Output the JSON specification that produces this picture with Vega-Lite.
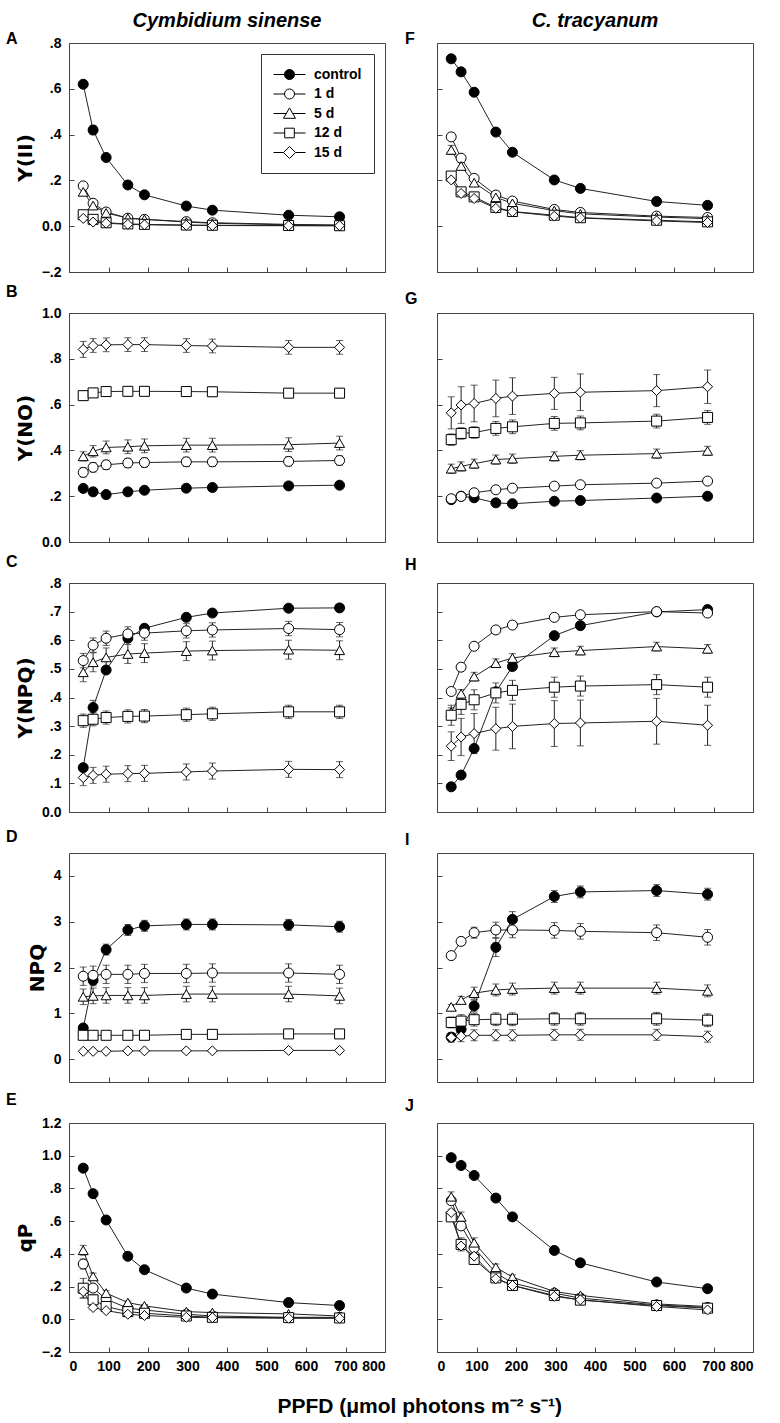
{
"$schema": "https://vega.github.io/schema/vega-lite/v6.json",
"background": "white",
"padding": {"left": 5, "top": 1, "right": 5, "bottom": 5},
"title": {"text": "PPFD (μmol photons m⁻² s⁻¹)", "orient": "bottom", "anchor": "middle", "frame": "bounds", "fontSize": 21, "dx": 40, "offset": 22, "font": "Liberation Sans", "fontWeight": "bold", "color": "black"},
"columns": 2,
"spacing": {"row": 41, "column": 52},
"bounds": "flush",
"resolve": {"scale": {"shape": "independent", "fill": "independent"}, "legend": {"shape": "independent", "fill": "independent"}},
"config": {
 "view": {"stroke": "#444", "strokeWidth": 1},
 "axis": {"labelFont": "Liberation Sans", "labelFontSize": 14, "labelFontWeight": "bold", "labelColor": "black", "titleFont": "DejaVu Sans", "titleFontSize": 20, "titleFontWeight": "bold", "titleColor": "black", "domain": false, "grid": false, "tickSize": -5, "tickColor": "#444", "labelPadding": 13, "titlePadding": 6},
 "title": {"font": "Liberation Sans", "fontSize": 16, "fontWeight": "bold", "anchor": "start", "frame": "group", "color": "black"},
 "legend": {"labelFont": "Liberation Sans", "labelFontSize": 14, "labelFontWeight": "bold", "labelColor": "black"}
},
"datasets": {"d": [
{"p":"A","g":"control","x":36,"y":0.62,"e":0.01},{"p":"A","g":"control","x":61,"y":0.42,"e":0.02},{"p":"A","g":"control","x":94,"y":0.30,"e":0.01},{"p":"A","g":"control","x":149,"y":0.18,"e":0.01},{"p":"A","g":"control","x":191,"y":0.137,"e":0.008},{"p":"A","g":"control","x":297,"y":0.088,"e":0.006},{"p":"A","g":"control","x":363,"y":0.07,"e":0.005},{"p":"A","g":"control","x":556,"y":0.048,"e":0.005},{"p":"A","g":"control","x":685,"y":0.041,"e":0.005},
{"p":"A","g":"1 d","x":36,"y":0.176,"e":0.01},{"p":"A","g":"1 d","x":61,"y":0.10,"e":0.01},{"p":"A","g":"1 d","x":94,"y":0.062,"e":0.008},{"p":"A","g":"1 d","x":149,"y":0.035,"e":0.006},{"p":"A","g":"1 d","x":191,"y":0.03,"e":0.005},{"p":"A","g":"1 d","x":297,"y":0.02,"e":0.004},{"p":"A","g":"1 d","x":363,"y":0.015,"e":0.004},{"p":"A","g":"1 d","x":556,"y":0.008,"e":0.003},{"p":"A","g":"1 d","x":685,"y":0.005,"e":0.003},
{"p":"A","g":"5 d","x":36,"y":0.15,"e":0.012},{"p":"A","g":"5 d","x":61,"y":0.09,"e":0.01},{"p":"A","g":"5 d","x":94,"y":0.058,"e":0.008},{"p":"A","g":"5 d","x":149,"y":0.035,"e":0.006},{"p":"A","g":"5 d","x":191,"y":0.03,"e":0.005},{"p":"A","g":"5 d","x":297,"y":0.018,"e":0.004},{"p":"A","g":"5 d","x":363,"y":0.013,"e":0.004},{"p":"A","g":"5 d","x":556,"y":0.006,"e":0.003},{"p":"A","g":"5 d","x":685,"y":0.004,"e":0.003},
{"p":"A","g":"12 d","x":36,"y":0.05,"e":0.005},{"p":"A","g":"12 d","x":61,"y":0.03,"e":0.005},{"p":"A","g":"12 d","x":94,"y":0.015,"e":0.005},{"p":"A","g":"12 d","x":149,"y":0.01,"e":0.004},{"p":"A","g":"12 d","x":191,"y":0.008,"e":0.004},{"p":"A","g":"12 d","x":297,"y":0.005,"e":0.003},{"p":"A","g":"12 d","x":363,"y":0.004,"e":0.003},{"p":"A","g":"12 d","x":556,"y":0.003,"e":0.003},{"p":"A","g":"12 d","x":685,"y":0.002,"e":0.003},
{"p":"A","g":"15 d","x":36,"y":0.034,"e":0.004},{"p":"A","g":"15 d","x":61,"y":0.018,"e":0.004},{"p":"A","g":"15 d","x":94,"y":0.013,"e":0.004},{"p":"A","g":"15 d","x":149,"y":0.008,"e":0.003},{"p":"A","g":"15 d","x":191,"y":0.006,"e":0.003},{"p":"A","g":"15 d","x":297,"y":0.004,"e":0.003},{"p":"A","g":"15 d","x":363,"y":0.003,"e":0.003},{"p":"A","g":"15 d","x":556,"y":0.002,"e":0.003},{"p":"A","g":"15 d","x":685,"y":0.002,"e":0.003},

{"p":"F","g":"control","x":36,"y":0.731,"e":0.01},{"p":"F","g":"control","x":61,"y":0.674,"e":0.01},{"p":"F","g":"control","x":94,"y":0.585,"e":0.01},{"p":"F","g":"control","x":149,"y":0.411,"e":0.01},{"p":"F","g":"control","x":191,"y":0.323,"e":0.01},{"p":"F","g":"control","x":297,"y":0.202,"e":0.01},{"p":"F","g":"control","x":363,"y":0.165,"e":0.01},{"p":"F","g":"control","x":556,"y":0.108,"e":0.01},{"p":"F","g":"control","x":685,"y":0.091,"e":0.01},
{"p":"F","g":"1 d","x":36,"y":0.39,"e":0.01},{"p":"F","g":"1 d","x":61,"y":0.297,"e":0.01},{"p":"F","g":"1 d","x":94,"y":0.209,"e":0.01},{"p":"F","g":"1 d","x":149,"y":0.136,"e":0.01},{"p":"F","g":"1 d","x":191,"y":0.11,"e":0.01},{"p":"F","g":"1 d","x":297,"y":0.073,"e":0.01},{"p":"F","g":"1 d","x":363,"y":0.06,"e":0.01},{"p":"F","g":"1 d","x":556,"y":0.044,"e":0.01},{"p":"F","g":"1 d","x":685,"y":0.038,"e":0.01},
{"p":"F","g":"5 d","x":36,"y":0.333,"e":0.02},{"p":"F","g":"5 d","x":61,"y":0.263,"e":0.015},{"p":"F","g":"5 d","x":94,"y":0.19,"e":0.012},{"p":"F","g":"5 d","x":149,"y":0.126,"e":0.01},{"p":"F","g":"5 d","x":191,"y":0.1,"e":0.008},{"p":"F","g":"5 d","x":297,"y":0.068,"e":0.006},{"p":"F","g":"5 d","x":363,"y":0.054,"e":0.005},{"p":"F","g":"5 d","x":556,"y":0.04,"e":0.004},{"p":"F","g":"5 d","x":685,"y":0.033,"e":0.004},
{"p":"F","g":"12 d","x":36,"y":0.219,"e":0.01},{"p":"F","g":"12 d","x":61,"y":0.15,"e":0.01},{"p":"F","g":"12 d","x":94,"y":0.128,"e":0.01},{"p":"F","g":"12 d","x":149,"y":0.082,"e":0.01},{"p":"F","g":"12 d","x":191,"y":0.064,"e":0.01},{"p":"F","g":"12 d","x":297,"y":0.048,"e":0.01},{"p":"F","g":"12 d","x":363,"y":0.037,"e":0.01},{"p":"F","g":"12 d","x":556,"y":0.026,"e":0.01},{"p":"F","g":"12 d","x":685,"y":0.019,"e":0.01},
{"p":"F","g":"15 d","x":36,"y":0.202,"e":0.01},{"p":"F","g":"15 d","x":61,"y":0.143,"e":0.01},{"p":"F","g":"15 d","x":94,"y":0.121,"e":0.01},{"p":"F","g":"15 d","x":149,"y":0.078,"e":0.01},{"p":"F","g":"15 d","x":191,"y":0.063,"e":0.01},{"p":"F","g":"15 d","x":297,"y":0.044,"e":0.01},{"p":"F","g":"15 d","x":363,"y":0.036,"e":0.01},{"p":"F","g":"15 d","x":556,"y":0.023,"e":0.01},{"p":"F","g":"15 d","x":685,"y":0.016,"e":0.01},

{"p":"B","g":"control","x":36,"y":0.234,"e":0.005},{"p":"B","g":"control","x":61,"y":0.219,"e":0.005},{"p":"B","g":"control","x":94,"y":0.207,"e":0.005},{"p":"B","g":"control","x":149,"y":0.219,"e":0.005},{"p":"B","g":"control","x":191,"y":0.226,"e":0.005},{"p":"B","g":"control","x":297,"y":0.235,"e":0.005},{"p":"B","g":"control","x":363,"y":0.238,"e":0.005},{"p":"B","g":"control","x":556,"y":0.245,"e":0.005},{"p":"B","g":"control","x":685,"y":0.248,"e":0.005},
{"p":"B","g":"1 d","x":36,"y":0.304,"e":0.02},{"p":"B","g":"1 d","x":61,"y":0.326,"e":0.02},{"p":"B","g":"1 d","x":94,"y":0.337,"e":0.02},{"p":"B","g":"1 d","x":149,"y":0.345,"e":0.02},{"p":"B","g":"1 d","x":191,"y":0.347,"e":0.02},{"p":"B","g":"1 d","x":297,"y":0.35,"e":0.02},{"p":"B","g":"1 d","x":363,"y":0.35,"e":0.02},{"p":"B","g":"1 d","x":556,"y":0.352,"e":0.02},{"p":"B","g":"1 d","x":685,"y":0.356,"e":0.02},
{"p":"B","g":"5 d","x":36,"y":0.374,"e":0.02},{"p":"B","g":"5 d","x":61,"y":0.396,"e":0.025},{"p":"B","g":"5 d","x":94,"y":0.413,"e":0.028},{"p":"B","g":"5 d","x":149,"y":0.416,"e":0.03},{"p":"B","g":"5 d","x":191,"y":0.42,"e":0.03},{"p":"B","g":"5 d","x":297,"y":0.423,"e":0.03},{"p":"B","g":"5 d","x":363,"y":0.423,"e":0.03},{"p":"B","g":"5 d","x":556,"y":0.425,"e":0.03},{"p":"B","g":"5 d","x":685,"y":0.432,"e":0.03},
{"p":"B","g":"12 d","x":36,"y":0.639,"e":0.02},{"p":"B","g":"12 d","x":61,"y":0.651,"e":0.02},{"p":"B","g":"12 d","x":94,"y":0.657,"e":0.02},{"p":"B","g":"12 d","x":149,"y":0.658,"e":0.02},{"p":"B","g":"12 d","x":191,"y":0.658,"e":0.02},{"p":"B","g":"12 d","x":297,"y":0.657,"e":0.02},{"p":"B","g":"12 d","x":363,"y":0.656,"e":0.02},{"p":"B","g":"12 d","x":556,"y":0.65,"e":0.02},{"p":"B","g":"12 d","x":685,"y":0.65,"e":0.02},
{"p":"B","g":"15 d","x":36,"y":0.841,"e":0.035},{"p":"B","g":"15 d","x":61,"y":0.858,"e":0.03},{"p":"B","g":"15 d","x":94,"y":0.861,"e":0.03},{"p":"B","g":"15 d","x":149,"y":0.862,"e":0.03},{"p":"B","g":"15 d","x":191,"y":0.862,"e":0.03},{"p":"B","g":"15 d","x":297,"y":0.858,"e":0.03},{"p":"B","g":"15 d","x":363,"y":0.856,"e":0.03},{"p":"B","g":"15 d","x":556,"y":0.85,"e":0.03},{"p":"B","g":"15 d","x":685,"y":0.85,"e":0.03},

{"p":"G","g":"control","x":36,"y":0.185,"e":0.005},{"p":"G","g":"control","x":61,"y":0.2,"e":0.005},{"p":"G","g":"control","x":94,"y":0.193,"e":0.005},{"p":"G","g":"control","x":149,"y":0.171,"e":0.005},{"p":"G","g":"control","x":191,"y":0.167,"e":0.005},{"p":"G","g":"control","x":297,"y":0.178,"e":0.005},{"p":"G","g":"control","x":363,"y":0.181,"e":0.005},{"p":"G","g":"control","x":556,"y":0.192,"e":0.005},{"p":"G","g":"control","x":685,"y":0.2,"e":0.005},
{"p":"G","g":"1 d","x":36,"y":0.189,"e":0.006},{"p":"G","g":"1 d","x":61,"y":0.199,"e":0.006},{"p":"G","g":"1 d","x":94,"y":0.215,"e":0.006},{"p":"G","g":"1 d","x":149,"y":0.228,"e":0.006},{"p":"G","g":"1 d","x":191,"y":0.235,"e":0.006},{"p":"G","g":"1 d","x":297,"y":0.244,"e":0.006},{"p":"G","g":"1 d","x":363,"y":0.25,"e":0.006},{"p":"G","g":"1 d","x":556,"y":0.257,"e":0.006},{"p":"G","g":"1 d","x":685,"y":0.266,"e":0.006},
{"p":"G","g":"5 d","x":36,"y":0.32,"e":0.02},{"p":"G","g":"5 d","x":61,"y":0.33,"e":0.02},{"p":"G","g":"5 d","x":94,"y":0.342,"e":0.02},{"p":"G","g":"5 d","x":149,"y":0.36,"e":0.02},{"p":"G","g":"5 d","x":191,"y":0.364,"e":0.02},{"p":"G","g":"5 d","x":297,"y":0.374,"e":0.02},{"p":"G","g":"5 d","x":363,"y":0.379,"e":0.02},{"p":"G","g":"5 d","x":556,"y":0.386,"e":0.02},{"p":"G","g":"5 d","x":685,"y":0.398,"e":0.02},
{"p":"G","g":"12 d","x":36,"y":0.447,"e":0.025},{"p":"G","g":"12 d","x":61,"y":0.474,"e":0.025},{"p":"G","g":"12 d","x":94,"y":0.478,"e":0.025},{"p":"G","g":"12 d","x":149,"y":0.496,"e":0.03},{"p":"G","g":"12 d","x":191,"y":0.503,"e":0.03},{"p":"G","g":"12 d","x":297,"y":0.518,"e":0.03},{"p":"G","g":"12 d","x":363,"y":0.52,"e":0.03},{"p":"G","g":"12 d","x":556,"y":0.528,"e":0.03},{"p":"G","g":"12 d","x":685,"y":0.544,"e":0.03},
{"p":"G","g":"15 d","x":36,"y":0.564,"e":0.07},{"p":"G","g":"15 d","x":61,"y":0.598,"e":0.08},{"p":"G","g":"15 d","x":94,"y":0.605,"e":0.08},{"p":"G","g":"15 d","x":149,"y":0.627,"e":0.08},{"p":"G","g":"15 d","x":191,"y":0.637,"e":0.08},{"p":"G","g":"15 d","x":297,"y":0.649,"e":0.07},{"p":"G","g":"15 d","x":363,"y":0.654,"e":0.08},{"p":"G","g":"15 d","x":556,"y":0.661,"e":0.07},{"p":"G","g":"15 d","x":685,"y":0.678,"e":0.073},

{"p":"C","g":"control","x":36,"y":0.155,"e":0.01},{"p":"C","g":"control","x":61,"y":0.365,"e":0.025},{"p":"C","g":"control","x":94,"y":0.496,"e":0.01},{"p":"C","g":"control","x":149,"y":0.607,"e":0.01},{"p":"C","g":"control","x":191,"y":0.642,"e":0.01},{"p":"C","g":"control","x":297,"y":0.68,"e":0.01},{"p":"C","g":"control","x":363,"y":0.695,"e":0.01},{"p":"C","g":"control","x":556,"y":0.712,"e":0.01},{"p":"C","g":"control","x":685,"y":0.713,"e":0.01},
{"p":"C","g":"1 d","x":36,"y":0.529,"e":0.025},{"p":"C","g":"1 d","x":61,"y":0.583,"e":0.025},{"p":"C","g":"1 d","x":94,"y":0.607,"e":0.025},{"p":"C","g":"1 d","x":149,"y":0.622,"e":0.025},{"p":"C","g":"1 d","x":191,"y":0.625,"e":0.025},{"p":"C","g":"1 d","x":297,"y":0.633,"e":0.025},{"p":"C","g":"1 d","x":363,"y":0.636,"e":0.025},{"p":"C","g":"1 d","x":556,"y":0.641,"e":0.025},{"p":"C","g":"1 d","x":685,"y":0.637,"e":0.025},
{"p":"C","g":"5 d","x":36,"y":0.488,"e":0.033},{"p":"C","g":"5 d","x":61,"y":0.523,"e":0.033},{"p":"C","g":"5 d","x":94,"y":0.54,"e":0.033},{"p":"C","g":"5 d","x":149,"y":0.552,"e":0.033},{"p":"C","g":"5 d","x":191,"y":0.555,"e":0.033},{"p":"C","g":"5 d","x":297,"y":0.562,"e":0.033},{"p":"C","g":"5 d","x":363,"y":0.564,"e":0.033},{"p":"C","g":"5 d","x":556,"y":0.567,"e":0.033},{"p":"C","g":"5 d","x":685,"y":0.565,"e":0.033},
{"p":"C","g":"12 d","x":36,"y":0.319,"e":0.023},{"p":"C","g":"12 d","x":61,"y":0.324,"e":0.023},{"p":"C","g":"12 d","x":94,"y":0.33,"e":0.023},{"p":"C","g":"12 d","x":149,"y":0.334,"e":0.023},{"p":"C","g":"12 d","x":191,"y":0.335,"e":0.023},{"p":"C","g":"12 d","x":297,"y":0.34,"e":0.023},{"p":"C","g":"12 d","x":363,"y":0.343,"e":0.023},{"p":"C","g":"12 d","x":556,"y":0.35,"e":0.023},{"p":"C","g":"12 d","x":685,"y":0.35,"e":0.023},
{"p":"C","g":"15 d","x":36,"y":0.12,"e":0.028},{"p":"C","g":"15 d","x":61,"y":0.128,"e":0.028},{"p":"C","g":"15 d","x":94,"y":0.132,"e":0.028},{"p":"C","g":"15 d","x":149,"y":0.134,"e":0.028},{"p":"C","g":"15 d","x":191,"y":0.135,"e":0.028},{"p":"C","g":"15 d","x":297,"y":0.14,"e":0.028},{"p":"C","g":"15 d","x":363,"y":0.143,"e":0.028},{"p":"C","g":"15 d","x":556,"y":0.149,"e":0.028},{"p":"C","g":"15 d","x":685,"y":0.148,"e":0.028},

{"p":"H","g":"control","x":36,"y":0.088,"e":0.01},{"p":"H","g":"control","x":61,"y":0.129,"e":0.01},{"p":"H","g":"control","x":94,"y":0.222,"e":0.01},{"p":"H","g":"control","x":149,"y":0.42,"e":0.01},{"p":"H","g":"control","x":191,"y":0.508,"e":0.01},{"p":"H","g":"control","x":297,"y":0.616,"e":0.01},{"p":"H","g":"control","x":363,"y":0.651,"e":0.01},{"p":"H","g":"control","x":556,"y":0.699,"e":0.01},{"p":"H","g":"control","x":685,"y":0.707,"e":0.01},
{"p":"H","g":"1 d","x":36,"y":0.421,"e":0.01},{"p":"H","g":"1 d","x":61,"y":0.506,"e":0.01},{"p":"H","g":"1 d","x":94,"y":0.579,"e":0.01},{"p":"H","g":"1 d","x":149,"y":0.636,"e":0.01},{"p":"H","g":"1 d","x":191,"y":0.653,"e":0.01},{"p":"H","g":"1 d","x":297,"y":0.68,"e":0.01},{"p":"H","g":"1 d","x":363,"y":0.689,"e":0.01},{"p":"H","g":"1 d","x":556,"y":0.7,"e":0.01},{"p":"H","g":"1 d","x":685,"y":0.695,"e":0.01},
{"p":"H","g":"5 d","x":36,"y":0.349,"e":0.015},{"p":"H","g":"5 d","x":61,"y":0.413,"e":0.015},{"p":"H","g":"5 d","x":94,"y":0.473,"e":0.015},{"p":"H","g":"5 d","x":149,"y":0.52,"e":0.015},{"p":"H","g":"5 d","x":191,"y":0.538,"e":0.015},{"p":"H","g":"5 d","x":297,"y":0.558,"e":0.015},{"p":"H","g":"5 d","x":363,"y":0.564,"e":0.015},{"p":"H","g":"5 d","x":556,"y":0.578,"e":0.015},{"p":"H","g":"5 d","x":685,"y":0.57,"e":0.015},
{"p":"H","g":"12 d","x":36,"y":0.338,"e":0.035},{"p":"H","g":"12 d","x":61,"y":0.376,"e":0.035},{"p":"H","g":"12 d","x":94,"y":0.392,"e":0.035},{"p":"H","g":"12 d","x":149,"y":0.416,"e":0.035},{"p":"H","g":"12 d","x":191,"y":0.425,"e":0.035},{"p":"H","g":"12 d","x":297,"y":0.436,"e":0.035},{"p":"H","g":"12 d","x":363,"y":0.44,"e":0.035},{"p":"H","g":"12 d","x":556,"y":0.445,"e":0.035},{"p":"H","g":"12 d","x":685,"y":0.436,"e":0.035},
{"p":"H","g":"15 d","x":36,"y":0.23,"e":0.05},{"p":"H","g":"15 d","x":61,"y":0.262,"e":0.065},{"p":"H","g":"15 d","x":94,"y":0.274,"e":0.07},{"p":"H","g":"15 d","x":149,"y":0.291,"e":0.075},{"p":"H","g":"15 d","x":191,"y":0.299,"e":0.078},{"p":"H","g":"15 d","x":297,"y":0.309,"e":0.08},{"p":"H","g":"15 d","x":363,"y":0.311,"e":0.08},{"p":"H","g":"15 d","x":556,"y":0.317,"e":0.08},{"p":"H","g":"15 d","x":685,"y":0.303,"e":0.07},

{"p":"D","g":"control","x":36,"y":0.68,"e":0.06},{"p":"D","g":"control","x":61,"y":1.72,"e":0.12},{"p":"D","g":"control","x":94,"y":2.39,"e":0.12},{"p":"D","g":"control","x":149,"y":2.82,"e":0.12},{"p":"D","g":"control","x":191,"y":2.91,"e":0.12},{"p":"D","g":"control","x":297,"y":2.94,"e":0.12},{"p":"D","g":"control","x":363,"y":2.94,"e":0.12},{"p":"D","g":"control","x":556,"y":2.93,"e":0.12},{"p":"D","g":"control","x":685,"y":2.89,"e":0.12},
{"p":"D","g":"1 d","x":36,"y":1.81,"e":0.2},{"p":"D","g":"1 d","x":61,"y":1.83,"e":0.2},{"p":"D","g":"1 d","x":94,"y":1.85,"e":0.2},{"p":"D","g":"1 d","x":149,"y":1.85,"e":0.2},{"p":"D","g":"1 d","x":191,"y":1.87,"e":0.2},{"p":"D","g":"1 d","x":297,"y":1.87,"e":0.2},{"p":"D","g":"1 d","x":363,"y":1.88,"e":0.2},{"p":"D","g":"1 d","x":556,"y":1.88,"e":0.2},{"p":"D","g":"1 d","x":685,"y":1.85,"e":0.2},
{"p":"D","g":"5 d","x":36,"y":1.36,"e":0.17},{"p":"D","g":"5 d","x":61,"y":1.38,"e":0.17},{"p":"D","g":"5 d","x":94,"y":1.39,"e":0.17},{"p":"D","g":"5 d","x":149,"y":1.39,"e":0.17},{"p":"D","g":"5 d","x":191,"y":1.39,"e":0.17},{"p":"D","g":"5 d","x":297,"y":1.42,"e":0.17},{"p":"D","g":"5 d","x":363,"y":1.42,"e":0.17},{"p":"D","g":"5 d","x":556,"y":1.42,"e":0.17},{"p":"D","g":"5 d","x":685,"y":1.38,"e":0.17},
{"p":"D","g":"12 d","x":36,"y":0.52,"e":0.02},{"p":"D","g":"12 d","x":61,"y":0.52,"e":0.02},{"p":"D","g":"12 d","x":94,"y":0.52,"e":0.02},{"p":"D","g":"12 d","x":149,"y":0.52,"e":0.02},{"p":"D","g":"12 d","x":191,"y":0.52,"e":0.02},{"p":"D","g":"12 d","x":297,"y":0.54,"e":0.02},{"p":"D","g":"12 d","x":363,"y":0.54,"e":0.02},{"p":"D","g":"12 d","x":556,"y":0.55,"e":0.02},{"p":"D","g":"12 d","x":685,"y":0.55,"e":0.02},
{"p":"D","g":"15 d","x":36,"y":0.17,"e":0.01},{"p":"D","g":"15 d","x":61,"y":0.17,"e":0.01},{"p":"D","g":"15 d","x":94,"y":0.17,"e":0.01},{"p":"D","g":"15 d","x":149,"y":0.18,"e":0.01},{"p":"D","g":"15 d","x":191,"y":0.18,"e":0.01},{"p":"D","g":"15 d","x":297,"y":0.18,"e":0.01},{"p":"D","g":"15 d","x":363,"y":0.18,"e":0.01},{"p":"D","g":"15 d","x":556,"y":0.19,"e":0.01},{"p":"D","g":"15 d","x":685,"y":0.19,"e":0.01},

{"p":"I","g":"control","x":36,"y":0.48,"e":0.06},{"p":"I","g":"control","x":61,"y":0.65,"e":0.1},{"p":"I","g":"control","x":94,"y":1.16,"e":0.13},{"p":"I","g":"control","x":149,"y":2.44,"e":0.2},{"p":"I","g":"control","x":191,"y":3.05,"e":0.17},{"p":"I","g":"control","x":297,"y":3.55,"e":0.13},{"p":"I","g":"control","x":363,"y":3.65,"e":0.13},{"p":"I","g":"control","x":556,"y":3.68,"e":0.13},{"p":"I","g":"control","x":685,"y":3.6,"e":0.13},
{"p":"I","g":"1 d","x":36,"y":2.26,"e":0.05},{"p":"I","g":"1 d","x":61,"y":2.57,"e":0.08},{"p":"I","g":"1 d","x":94,"y":2.76,"e":0.12},{"p":"I","g":"1 d","x":149,"y":2.82,"e":0.17},{"p":"I","g":"1 d","x":191,"y":2.82,"e":0.17},{"p":"I","g":"1 d","x":297,"y":2.81,"e":0.17},{"p":"I","g":"1 d","x":363,"y":2.79,"e":0.17},{"p":"I","g":"1 d","x":556,"y":2.76,"e":0.17},{"p":"I","g":"1 d","x":685,"y":2.66,"e":0.17},
{"p":"I","g":"5 d","x":36,"y":1.14,"e":0.05},{"p":"I","g":"5 d","x":61,"y":1.29,"e":0.08},{"p":"I","g":"5 d","x":94,"y":1.44,"e":0.13},{"p":"I","g":"5 d","x":149,"y":1.51,"e":0.13},{"p":"I","g":"5 d","x":191,"y":1.53,"e":0.13},{"p":"I","g":"5 d","x":297,"y":1.55,"e":0.13},{"p":"I","g":"5 d","x":363,"y":1.55,"e":0.13},{"p":"I","g":"5 d","x":556,"y":1.55,"e":0.13},{"p":"I","g":"5 d","x":685,"y":1.49,"e":0.13},
{"p":"I","g":"12 d","x":36,"y":0.8,"e":0.12},{"p":"I","g":"12 d","x":61,"y":0.83,"e":0.14},{"p":"I","g":"12 d","x":94,"y":0.86,"e":0.14},{"p":"I","g":"12 d","x":149,"y":0.87,"e":0.14},{"p":"I","g":"12 d","x":191,"y":0.87,"e":0.14},{"p":"I","g":"12 d","x":297,"y":0.88,"e":0.14},{"p":"I","g":"12 d","x":363,"y":0.88,"e":0.14},{"p":"I","g":"12 d","x":556,"y":0.88,"e":0.14},{"p":"I","g":"12 d","x":685,"y":0.85,"e":0.14},
{"p":"I","g":"15 d","x":36,"y":0.47,"e":0.1},{"p":"I","g":"15 d","x":61,"y":0.5,"e":0.12},{"p":"I","g":"15 d","x":94,"y":0.52,"e":0.12},{"p":"I","g":"15 d","x":149,"y":0.52,"e":0.12},{"p":"I","g":"15 d","x":191,"y":0.52,"e":0.12},{"p":"I","g":"15 d","x":297,"y":0.53,"e":0.12},{"p":"I","g":"15 d","x":363,"y":0.53,"e":0.12},{"p":"I","g":"15 d","x":556,"y":0.53,"e":0.12},{"p":"I","g":"15 d","x":685,"y":0.49,"e":0.12},

{"p":"E","g":"control","x":36,"y":0.924,"e":0.01},{"p":"E","g":"control","x":61,"y":0.768,"e":0.01},{"p":"E","g":"control","x":94,"y":0.607,"e":0.01},{"p":"E","g":"control","x":149,"y":0.385,"e":0.01},{"p":"E","g":"control","x":191,"y":0.303,"e":0.01},{"p":"E","g":"control","x":297,"y":0.191,"e":0.01},{"p":"E","g":"control","x":363,"y":0.154,"e":0.01},{"p":"E","g":"control","x":556,"y":0.102,"e":0.01},{"p":"E","g":"control","x":685,"y":0.084,"e":0.01},
{"p":"E","g":"1 d","x":36,"y":0.338,"e":0.03},{"p":"E","g":"1 d","x":61,"y":0.191,"e":0.02},{"p":"E","g":"1 d","x":94,"y":0.123,"e":0.01},{"p":"E","g":"1 d","x":149,"y":0.068,"e":0.008},{"p":"E","g":"1 d","x":191,"y":0.057,"e":0.006},{"p":"E","g":"1 d","x":297,"y":0.031,"e":0.005},{"p":"E","g":"1 d","x":363,"y":0.02,"e":0.005},{"p":"E","g":"1 d","x":556,"y":0.012,"e":0.005},{"p":"E","g":"1 d","x":685,"y":0.012,"e":0.005},
{"p":"E","g":"5 d","x":36,"y":0.422,"e":0.03},{"p":"E","g":"5 d","x":61,"y":0.262,"e":0.02},{"p":"E","g":"5 d","x":94,"y":0.16,"e":0.015},{"p":"E","g":"5 d","x":149,"y":0.102,"e":0.01},{"p":"E","g":"5 d","x":191,"y":0.082,"e":0.008},{"p":"E","g":"5 d","x":297,"y":0.047,"e":0.006},{"p":"E","g":"5 d","x":363,"y":0.041,"e":0.005},{"p":"E","g":"5 d","x":556,"y":0.033,"e":0.005},{"p":"E","g":"5 d","x":685,"y":0.02,"e":0.005},
{"p":"E","g":"12 d","x":36,"y":0.19,"e":0.06},{"p":"E","g":"12 d","x":61,"y":0.119,"e":0.03},{"p":"E","g":"12 d","x":94,"y":0.078,"e":0.01},{"p":"E","g":"12 d","x":149,"y":0.047,"e":0.008},{"p":"E","g":"12 d","x":191,"y":0.037,"e":0.006},{"p":"E","g":"12 d","x":297,"y":0.02,"e":0.005},{"p":"E","g":"12 d","x":363,"y":0.012,"e":0.005},{"p":"E","g":"12 d","x":556,"y":0.01,"e":0.005},{"p":"E","g":"12 d","x":685,"y":0.008,"e":0.005},
{"p":"E","g":"15 d","x":36,"y":0.17,"e":0.04},{"p":"E","g":"15 d","x":61,"y":0.072,"e":0.01},{"p":"E","g":"15 d","x":94,"y":0.053,"e":0.008},{"p":"E","g":"15 d","x":149,"y":0.031,"e":0.006},{"p":"E","g":"15 d","x":191,"y":0.023,"e":0.005},{"p":"E","g":"15 d","x":297,"y":0.012,"e":0.005},{"p":"E","g":"15 d","x":363,"y":0.01,"e":0.005},{"p":"E","g":"15 d","x":556,"y":0.006,"e":0.005},{"p":"E","g":"15 d","x":685,"y":0.006,"e":0.005},

{"p":"J","g":"control","x":36,"y":0.988,"e":0.01},{"p":"J","g":"control","x":61,"y":0.94,"e":0.01},{"p":"J","g":"control","x":94,"y":0.879,"e":0.01},{"p":"J","g":"control","x":149,"y":0.741,"e":0.01},{"p":"J","g":"control","x":191,"y":0.626,"e":0.01},{"p":"J","g":"control","x":297,"y":0.421,"e":0.01},{"p":"J","g":"control","x":363,"y":0.345,"e":0.01},{"p":"J","g":"control","x":556,"y":0.228,"e":0.01},{"p":"J","g":"control","x":685,"y":0.187,"e":0.01},
{"p":"J","g":"1 d","x":36,"y":0.725,"e":0.02},{"p":"J","g":"1 d","x":61,"y":0.571,"e":0.02},{"p":"J","g":"1 d","x":94,"y":0.437,"e":0.02},{"p":"J","g":"1 d","x":149,"y":0.283,"e":0.02},{"p":"J","g":"1 d","x":191,"y":0.222,"e":0.015},{"p":"J","g":"1 d","x":297,"y":0.16,"e":0.01},{"p":"J","g":"1 d","x":363,"y":0.129,"e":0.01},{"p":"J","g":"1 d","x":556,"y":0.088,"e":0.01},{"p":"J","g":"1 d","x":685,"y":0.072,"e":0.01},
{"p":"J","g":"5 d","x":36,"y":0.749,"e":0.03},{"p":"J","g":"5 d","x":61,"y":0.626,"e":0.03},{"p":"J","g":"5 d","x":94,"y":0.468,"e":0.03},{"p":"J","g":"5 d","x":149,"y":0.318,"e":0.02},{"p":"J","g":"5 d","x":191,"y":0.257,"e":0.015},{"p":"J","g":"5 d","x":297,"y":0.17,"e":0.01},{"p":"J","g":"5 d","x":363,"y":0.146,"e":0.01},{"p":"J","g":"5 d","x":556,"y":0.094,"e":0.01},{"p":"J","g":"5 d","x":685,"y":0.078,"e":0.01},
{"p":"J","g":"12 d","x":36,"y":0.626,"e":0.02},{"p":"J","g":"12 d","x":61,"y":0.458,"e":0.04},{"p":"J","g":"12 d","x":94,"y":0.366,"e":0.03},{"p":"J","g":"12 d","x":149,"y":0.253,"e":0.02},{"p":"J","g":"12 d","x":191,"y":0.207,"e":0.015},{"p":"J","g":"12 d","x":297,"y":0.146,"e":0.01},{"p":"J","g":"12 d","x":363,"y":0.117,"e":0.01},{"p":"J","g":"12 d","x":556,"y":0.084,"e":0.01},{"p":"J","g":"12 d","x":685,"y":0.068,"e":0.01},
{"p":"J","g":"15 d","x":36,"y":0.653,"e":0.02},{"p":"J","g":"15 d","x":61,"y":0.448,"e":0.02},{"p":"J","g":"15 d","x":94,"y":0.386,"e":0.02},{"p":"J","g":"15 d","x":149,"y":0.248,"e":0.02},{"p":"J","g":"15 d","x":191,"y":0.207,"e":0.015},{"p":"J","g":"15 d","x":297,"y":0.14,"e":0.01},{"p":"J","g":"15 d","x":363,"y":0.119,"e":0.01},{"p":"J","g":"15 d","x":556,"y":0.078,"e":0.01},{"p":"J","g":"15 d","x":685,"y":0.057,"e":0.01}
]},
"concat": [
{"width": 316, "height": 1, "view": {"stroke": null}, "data": {"values": [{"t": "Cymbidium sinense"}]}, "mark": {"type": "text", "font": "Liberation Sans", "fontSize": 20, "fontStyle": "italic", "fontWeight": "bold", "baseline": "alphabetic", "dy": 25, "color": "black"}, "encoding": {"text": {"field": "t"}}},
{"width": 316, "height": 1, "view": {"stroke": null}, "data": {"values": [{"t": "C. tracyanum"}]}, "mark": {"type": "text", "font": "Liberation Sans", "fontSize": 20, "fontStyle": "italic", "fontWeight": "bold", "baseline": "alphabetic", "dy": 25, "color": "black"}, "encoding": {"text": {"field": "t"}}},

{"title": {"text": "A", "dx": -63, "offset": -11}, "width": 316, "height": 229, "data": {"name": "d"}, "transform": [{"filter": "datum.p == 'A'"}],
 "encoding": {"x": {"field": "x", "type": "quantitative", "scale": {"domain": [0, 800]}, "axis": {"values": [0,100,200,300,400,500,600,700,800], "labels": false, "title": null}},
  "y": {"field": "y", "type": "quantitative", "scale": {"domain": [-0.2, 0.8], "nice": false, "zero": false}, "axis": {"values": [-0.2,0,0.2,0.4,0.6,0.8], "title": "Y(II)", "labelExpr": "datum.value == 0 ? '0.0' : (abs(datum.value) < 1 ? replace(format(datum.value, '.1f'), '0.', '.') : format(datum.value, '.1f'))"}}},
 "layer": [
  {"mark": {"type": "line", "color": "#222", "strokeWidth": 1}, "encoding": {"detail": {"field": "g"}}},
  {"transform": [{"filter": "datum.e > 0"}], "mark": {"type": "errorbar", "ticks": {"size": 7}, "color": "#222"}, "encoding": {"yError": {"field": "e"}, "detail": {"field": "g"}}},
  {"mark": {"type": "point", "filled": true, "size": 100, "stroke": "black", "strokeWidth": 1, "opacity": 1},
   "encoding": {"shape": {"condition": [{"test": "datum.g == '5 d'", "value": "triangle-up"}, {"test": "datum.g == '12 d'", "value": "square"}, {"test": "datum.g == '15 d'", "value": "diamond"}], "value": "circle"},
     "fill": {"field": "g", "type": "nominal", "scale": {"domain": ["control","1 d","5 d","12 d","15 d"], "range": ["black","white","white","white","white"]},
      "legend": {"title": null, "orient": "top-right", "offset": 11, "padding": 12, "strokeColor": "#333", "fillColor": "white", "symbolSize": 256, "symbolStrokeColor": "black", "symbolStrokeWidth": 1, "labelOffset": 24, "rowPadding": 3.5,
        "encode": {"symbols": {"stroke": {"value": "black"}, "strokeWidth": {"value": 1}, "opacity": {"value": 1}}}}}}},
  {"transform": [{"filter": "false"}], "mark": {"type": "point", "filled": true, "size": 100, "stroke": "black", "strokeWidth": 1, "opacity": 1},
   "encoding": {"shape": {"field": "g", "type": "nominal", "scale": {"domain": ["control","1 d","5 d","12 d","15 d"], "range": ["M-1,0H0.375M1.625,0H3M0.375,0A0.625,0.625,0,1,1,1.625,0A0.625,0.625,0,1,1,0.375,0Z", "M-1,0H0.375M1.625,0H3M0.375,0A0.625,0.625,0,1,1,1.625,0A0.625,0.625,0,1,1,0.375,0Z", "M-1,0H0.6M1.4,0H3M1,-0.7L1.75,0.6L0.25,0.6Z", "M-1,0H0.4M1.6,0H3M0.4,-0.6H1.6V0.6H0.4Z", "M-1,0H0.25M1.75,0H3M1,-0.75L1.75,0L1,0.75L0.25,0Z"]},
      "legend": {"title": null, "orient": "top-right", "offset": 11, "padding": 12, "strokeColor": "#333", "fillColor": "white", "symbolSize": 256, "symbolStrokeColor": "black", "symbolStrokeWidth": 1, "labelOffset": 24, "rowPadding": 3.5,
        "encode": {"symbols": {"stroke": {"value": "black"}, "strokeWidth": {"value": 1}, "opacity": {"value": 1}}}}},
     "fill": {"field": "g", "type": "nominal", "scale": {"domain": ["control","1 d","5 d","12 d","15 d"], "range": ["black","white","white","white","white"]},
      "legend": {"title": null, "orient": "top-right", "offset": 11, "padding": 12, "strokeColor": "#333", "fillColor": "white", "symbolSize": 256, "symbolStrokeColor": "black", "symbolStrokeWidth": 1, "labelOffset": 24, "rowPadding": 3.5,
        "encode": {"symbols": {"stroke": {"value": "black"}, "strokeWidth": {"value": 1}, "opacity": {"value": 1}}}}}}}
 ]},

{"title": {"text": "F", "dx": -32, "offset": -4}, "width": 316, "height": 229, "data": {"name": "d"}, "transform": [{"filter": "datum.p == 'F'"}],
 "encoding": {"x": {"field": "x", "type": "quantitative", "scale": {"domain": [0, 800]}, "axis": {"values": [0,100,200,300,400,500,600,700,800], "labels": false, "title": null}},
  "y": {"field": "y", "type": "quantitative", "scale": {"domain": [-0.2, 0.8], "nice": false, "zero": false}, "axis": {"values": [-0.2,0,0.2,0.4,0.6,0.8], "labels": false, "title": null}}},
 "layer": [
  {"mark": {"type": "line", "color": "#222", "strokeWidth": 1}, "encoding": {"detail": {"field": "g"}}},
  {"transform": [{"filter": "datum.e > 0"}], "mark": {"type": "errorbar", "ticks": {"size": 7}, "color": "#222"}, "encoding": {"yError": {"field": "e"}, "detail": {"field": "g"}}},
  {"mark": {"type": "point", "filled": true, "size": 100, "stroke": "black", "strokeWidth": 1, "opacity": 1},
   "encoding": {"shape": {"field": "g", "type": "nominal", "scale": {"domain": ["control","1 d","5 d","12 d","15 d"], "range": ["circle","circle","triangle-up","square","diamond"]}, "legend": null},
     "fill": {"field": "g", "type": "nominal", "scale": {"domain": ["control","1 d","5 d","12 d","15 d"], "range": ["black","white","white","white","white"]}, "legend": null}}}
 ]},

{"title": {"text": "B", "dx": -63, "offset": 6}, "width": 316, "height": 229, "data": {"name": "d"}, "transform": [{"filter": "datum.p == 'B'"}],
 "encoding": {"x": {"field": "x", "type": "quantitative", "scale": {"domain": [0, 800]}, "axis": {"values": [0,100,200,300,400,500,600,700,800], "labels": false, "title": null}},
  "y": {"field": "y", "type": "quantitative", "scale": {"domain": [0, 1], "nice": false, "zero": false}, "axis": {"values": [0,0.2,0.4,0.6,0.8,1], "title": "Y(NO)", "labelExpr": "datum.value == 0 ? '0.0' : (abs(datum.value) < 1 ? replace(format(datum.value, '.1f'), '0.', '.') : format(datum.value, '.1f'))"}}},
 "layer": [
  {"mark": {"type": "line", "color": "#222", "strokeWidth": 1}, "encoding": {"detail": {"field": "g"}}},
  {"transform": [{"filter": "datum.e > 0"}], "mark": {"type": "errorbar", "ticks": {"size": 7}, "color": "#222"}, "encoding": {"yError": {"field": "e"}, "detail": {"field": "g"}}},
  {"mark": {"type": "point", "filled": true, "size": 100, "stroke": "black", "strokeWidth": 1, "opacity": 1},
   "encoding": {"shape": {"field": "g", "type": "nominal", "scale": {"domain": ["control","1 d","5 d","12 d","15 d"], "range": ["circle","circle","triangle-up","square","diamond"]}, "legend": null},
     "fill": {"field": "g", "type": "nominal", "scale": {"domain": ["control","1 d","5 d","12 d","15 d"], "range": ["black","white","white","white","white"]}, "legend": null}}}
 ]},

{"title": {"text": "G", "dx": -32, "offset": 6}, "width": 316, "height": 229, "data": {"name": "d"}, "transform": [{"filter": "datum.p == 'G'"}],
 "encoding": {"x": {"field": "x", "type": "quantitative", "scale": {"domain": [0, 800]}, "axis": {"values": [0,100,200,300,400,500,600,700,800], "labels": false, "title": null}},
  "y": {"field": "y", "type": "quantitative", "scale": {"domain": [0, 1], "nice": false, "zero": false}, "axis": {"values": [0,0.2,0.4,0.6,0.8,1], "labels": false, "title": null}}},
 "layer": [
  {"mark": {"type": "line", "color": "#222", "strokeWidth": 1}, "encoding": {"detail": {"field": "g"}}},
  {"transform": [{"filter": "datum.e > 0"}], "mark": {"type": "errorbar", "ticks": {"size": 7}, "color": "#222"}, "encoding": {"yError": {"field": "e"}, "detail": {"field": "g"}}},
  {"mark": {"type": "point", "filled": true, "size": 100, "stroke": "black", "strokeWidth": 1, "opacity": 1},
   "encoding": {"shape": {"field": "g", "type": "nominal", "scale": {"domain": ["control","1 d","5 d","12 d","15 d"], "range": ["circle","circle","triangle-up","square","diamond"]}, "legend": null},
     "fill": {"field": "g", "type": "nominal", "scale": {"domain": ["control","1 d","5 d","12 d","15 d"], "range": ["black","white","white","white","white"]}, "legend": null}}}
 ]},

{"title": {"text": "C", "dx": -63, "offset": 6}, "width": 316, "height": 229, "data": {"name": "d"}, "transform": [{"filter": "datum.p == 'C'"}],
 "encoding": {"x": {"field": "x", "type": "quantitative", "scale": {"domain": [0, 800]}, "axis": {"values": [0,100,200,300,400,500,600,700,800], "labels": false, "title": null}},
  "y": {"field": "y", "type": "quantitative", "scale": {"domain": [0, 0.8], "nice": false, "zero": false}, "axis": {"values": [0,0.1,0.2,0.3,0.4,0.5,0.6,0.7,0.8], "title": "Y(NPQ)", "labelExpr": "datum.value == 0 ? '0.0' : (abs(datum.value) < 1 ? replace(format(datum.value, '.1f'), '0.', '.') : format(datum.value, '.1f'))"}}},
 "layer": [
  {"mark": {"type": "line", "color": "#222", "strokeWidth": 1}, "encoding": {"detail": {"field": "g"}}},
  {"transform": [{"filter": "datum.e > 0"}], "mark": {"type": "errorbar", "ticks": {"size": 7}, "color": "#222"}, "encoding": {"yError": {"field": "e"}, "detail": {"field": "g"}}},
  {"mark": {"type": "point", "filled": true, "size": 100, "stroke": "black", "strokeWidth": 1, "opacity": 1},
   "encoding": {"shape": {"field": "g", "type": "nominal", "scale": {"domain": ["control","1 d","5 d","12 d","15 d"], "range": ["circle","circle","triangle-up","square","diamond"]}, "legend": null},
     "fill": {"field": "g", "type": "nominal", "scale": {"domain": ["control","1 d","5 d","12 d","15 d"], "range": ["black","white","white","white","white"]}, "legend": null}}}
 ]},

{"title": {"text": "H", "dx": -32, "offset": 10}, "width": 316, "height": 229, "data": {"name": "d"}, "transform": [{"filter": "datum.p == 'H'"}],
 "encoding": {"x": {"field": "x", "type": "quantitative", "scale": {"domain": [0, 800]}, "axis": {"values": [0,100,200,300,400,500,600,700,800], "labels": false, "title": null}},
  "y": {"field": "y", "type": "quantitative", "scale": {"domain": [0, 0.8], "nice": false, "zero": false}, "axis": {"values": [0,0.1,0.2,0.3,0.4,0.5,0.6,0.7,0.8], "labels": false, "title": null}}},
 "layer": [
  {"mark": {"type": "line", "color": "#222", "strokeWidth": 1}, "encoding": {"detail": {"field": "g"}}},
  {"transform": [{"filter": "datum.e > 0"}], "mark": {"type": "errorbar", "ticks": {"size": 7}, "color": "#222"}, "encoding": {"yError": {"field": "e"}, "detail": {"field": "g"}}},
  {"mark": {"type": "point", "filled": true, "size": 100, "stroke": "black", "strokeWidth": 1, "opacity": 1},
   "encoding": {"shape": {"field": "g", "type": "nominal", "scale": {"domain": ["control","1 d","5 d","12 d","15 d"], "range": ["circle","circle","triangle-up","square","diamond"]}, "legend": null},
     "fill": {"field": "g", "type": "nominal", "scale": {"domain": ["control","1 d","5 d","12 d","15 d"], "range": ["black","white","white","white","white"]}, "legend": null}}}
 ]},

{"title": {"text": "D", "dx": -63, "offset": 8}, "width": 316, "height": 229, "data": {"name": "d"}, "transform": [{"filter": "datum.p == 'D'"}],
 "encoding": {"x": {"field": "x", "type": "quantitative", "scale": {"domain": [0, 800]}, "axis": {"values": [0,100,200,300,400,500,600,700,800], "labels": false, "title": null}},
  "y": {"field": "y", "type": "quantitative", "scale": {"domain": [-0.5, 4.5], "nice": false, "zero": false}, "axis": {"values": [0,1,2,3,4], "title": "NPQ", "format": "d"}}},
 "layer": [
  {"mark": {"type": "line", "color": "#222", "strokeWidth": 1}, "encoding": {"detail": {"field": "g"}}},
  {"transform": [{"filter": "datum.e > 0"}], "mark": {"type": "errorbar", "ticks": {"size": 7}, "color": "#222"}, "encoding": {"yError": {"field": "e"}, "detail": {"field": "g"}}},
  {"mark": {"type": "point", "filled": true, "size": 100, "stroke": "black", "strokeWidth": 1, "opacity": 1},
   "encoding": {"shape": {"field": "g", "type": "nominal", "scale": {"domain": ["control","1 d","5 d","12 d","15 d"], "range": ["circle","circle","triangle-up","square","diamond"]}, "legend": null},
     "fill": {"field": "g", "type": "nominal", "scale": {"domain": ["control","1 d","5 d","12 d","15 d"], "range": ["black","white","white","white","white"]}, "legend": null}}}
 ]},

{"title": {"text": "I", "dx": -32, "offset": 5}, "width": 316, "height": 229, "data": {"name": "d"}, "transform": [{"filter": "datum.p == 'I'"}],
 "encoding": {"x": {"field": "x", "type": "quantitative", "scale": {"domain": [0, 800]}, "axis": {"values": [0,100,200,300,400,500,600,700,800], "labels": false, "title": null}},
  "y": {"field": "y", "type": "quantitative", "scale": {"domain": [-0.5, 4.5], "nice": false, "zero": false}, "axis": {"values": [0,1,2,3,4], "labels": false, "title": null}}},
 "layer": [
  {"mark": {"type": "line", "color": "#222", "strokeWidth": 1}, "encoding": {"detail": {"field": "g"}}},
  {"transform": [{"filter": "datum.e > 0"}], "mark": {"type": "errorbar", "ticks": {"size": 7}, "color": "#222"}, "encoding": {"yError": {"field": "e"}, "detail": {"field": "g"}}},
  {"mark": {"type": "point", "filled": true, "size": 100, "stroke": "black", "strokeWidth": 1, "opacity": 1},
   "encoding": {"shape": {"field": "g", "type": "nominal", "scale": {"domain": ["control","1 d","5 d","12 d","15 d"], "range": ["circle","circle","triangle-up","square","diamond"]}, "legend": null},
     "fill": {"field": "g", "type": "nominal", "scale": {"domain": ["control","1 d","5 d","12 d","15 d"], "range": ["black","white","white","white","white"]}, "legend": null}}}
 ]},

{"title": {"text": "E", "dx": -63, "offset": 8}, "width": 316, "height": 229, "data": {"name": "d"}, "transform": [{"filter": "datum.p == 'E'"}],
 "encoding": {"x": {"field": "x", "type": "quantitative", "scale": {"domain": [0, 800]}, "axis": {"values": [0,100,200,300,400,500,600,700,800], "title": null, "labelPadding": 12}},
  "y": {"field": "y", "type": "quantitative", "scale": {"domain": [-0.2, 1.2], "nice": false, "zero": false}, "axis": {"values": [-0.2,0,0.2,0.4,0.6,0.8,1,1.2], "title": "qP", "labelExpr": "datum.value == 0 ? '0.0' : (abs(datum.value) < 1 ? replace(format(datum.value, '.1f'), '0.', '.') : format(datum.value, '.1f'))"}}},
 "layer": [
  {"mark": {"type": "line", "color": "#222", "strokeWidth": 1}, "encoding": {"detail": {"field": "g"}}},
  {"transform": [{"filter": "datum.e > 0"}], "mark": {"type": "errorbar", "ticks": {"size": 7}, "color": "#222"}, "encoding": {"yError": {"field": "e"}, "detail": {"field": "g"}}},
  {"mark": {"type": "point", "filled": true, "size": 100, "stroke": "black", "strokeWidth": 1, "opacity": 1},
   "encoding": {"shape": {"field": "g", "type": "nominal", "scale": {"domain": ["control","1 d","5 d","12 d","15 d"], "range": ["circle","circle","triangle-up","square","diamond"]}, "legend": null},
     "fill": {"field": "g", "type": "nominal", "scale": {"domain": ["control","1 d","5 d","12 d","15 d"], "range": ["black","white","white","white","white"]}, "legend": null}}}
 ]},

{"title": {"text": "J", "dx": -32, "offset": 9}, "width": 316, "height": 229, "data": {"name": "d"}, "transform": [{"filter": "datum.p == 'J'"}],
 "encoding": {"x": {"field": "x", "type": "quantitative", "scale": {"domain": [0, 800]}, "axis": {"values": [0,100,200,300,400,500,600,700,800], "title": null, "labelPadding": 12}},
  "y": {"field": "y", "type": "quantitative", "scale": {"domain": [-0.2, 1.2], "nice": false, "zero": false}, "axis": {"values": [-0.2,0,0.2,0.4,0.6,0.8,1,1.2], "labels": false, "title": null}}},
 "layer": [
  {"mark": {"type": "line", "color": "#222", "strokeWidth": 1}, "encoding": {"detail": {"field": "g"}}},
  {"transform": [{"filter": "datum.e > 0"}], "mark": {"type": "errorbar", "ticks": {"size": 7}, "color": "#222"}, "encoding": {"yError": {"field": "e"}, "detail": {"field": "g"}}},
  {"mark": {"type": "point", "filled": true, "size": 100, "stroke": "black", "strokeWidth": 1, "opacity": 1},
   "encoding": {"shape": {"field": "g", "type": "nominal", "scale": {"domain": ["control","1 d","5 d","12 d","15 d"], "range": ["circle","circle","triangle-up","square","diamond"]}, "legend": null},
     "fill": {"field": "g", "type": "nominal", "scale": {"domain": ["control","1 d","5 d","12 d","15 d"], "range": ["black","white","white","white","white"]}, "legend": null}}}
 ]}
]
}
